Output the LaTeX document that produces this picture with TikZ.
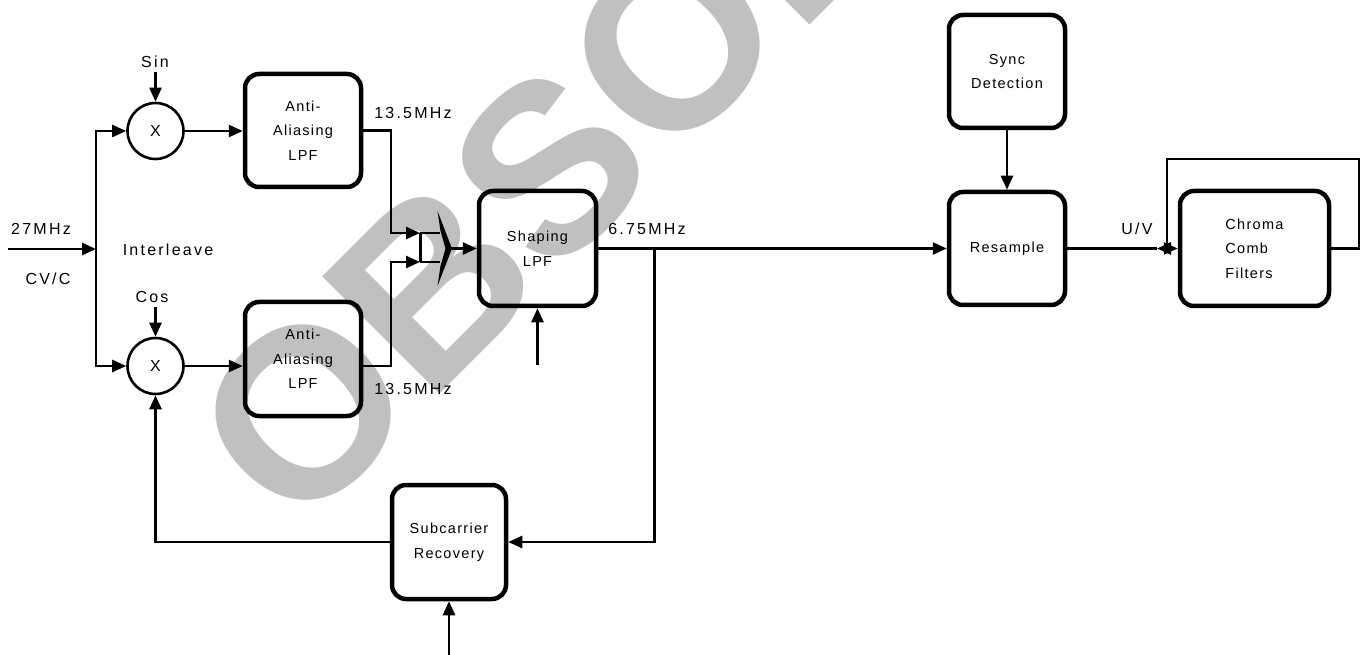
\documentclass[tikz,border=0pt]{standalone}
\usepackage{fontspec}
\setmainfont{Liberation Sans}
\newfontfamily\lblfont{Liberation Sans}[LetterSpace=14]
\newfontfamily\boxfont{Liberation Sans}[LetterSpace=9]
\newfontfamily\wmfont{Liberation Sans}
\usetikzlibrary{arrows.meta,calc}
\definecolor{wmgray}{HTML}{C0C0C0}
\tikzset{
  tip/.tip={Triangle[length=14pt,width=12pt]},
  conn/.style={line width=2.6pt},
  blk/.style={draw, line width=4.5pt, rounded corners=14pt, inner sep=0pt,
    align=center, font=\boxfont\fontsize{14.5}{24.5}\selectfont},
  mult/.style={draw, circle, line width=2.6pt, minimum size=56pt, inner sep=0pt,
    font=\lblfont\fontsize{16}{20}\selectfont},
  lbl/.style={anchor=base, inner sep=0pt, font=\lblfont\fontsize{16}{20}\selectfont},
}
\begin{document}
\begin{tikzpicture}[x=1pt,y=-1pt]
\useasboundingbox (0,0) rectangle (1361,655);
\clip (0,0) rectangle (1361,655);
% watermark
\node[anchor=base west, inner sep=0pt, rotate=45, text=wmgray,
  font=\wmfont\bfseries\fontsize{241}{241}\selectfont] (wm) at (296,538) {OBSOLETE};

% multipliers
\node[mult] (m1) at (155.5,131) {X};
\node[mult] (m2) at (155.5,366) {X};
% blocks
\node[blk, minimum width=116pt, minimum height=113pt] (aa1) at (303,130.5) {Anti-\\Aliasing\\LPF};
\node[blk, minimum width=116pt, minimum height=114pt] (aa2) at (303,359) {Anti-\\Aliasing\\LPF};
\node[blk, minimum width=117pt, minimum height=115pt] (shp) at (537.5,248.5) {Shaping\\LPF};
\node[blk, minimum width=114pt, minimum height=114pt] (sub) at (449,542) {Subcarrier\\Recovery};
\node[blk, minimum width=116pt, minimum height=113pt] (sync) at (1007,71.5) {Sync\\Detection};
\node[blk, minimum width=116pt, minimum height=113pt] (res) at (1007,248.5) {Resample};
\node[blk, minimum width=149pt, minimum height=115pt, align=left] (chr) at (1254.5,248.5) {Chroma\\Comb\\Filters};

% labels
\node[lbl] (l27) at (41,235) {27MHz};
\node[lbl] (lcv) at (48,284) {CV/C};
\node[lbl] (lint) at (168,256) {Interleave};
\node[lbl] (lsin) at (155,68) {Sin};
\node[lbl] (lcos) at (152,302) {Cos};
\node[lbl] (l13a) at (413,119) {13.5MHz};
\node[lbl] (l13b) at (413,394) {13.5MHz};
\node[lbl] (l675) at (647,235) {6.75MHz};
\node[lbl] (luv) at (1137,235) {U/V};

% coordinates
\coordinate (in) at (8,249);
\coordinate (j) at (96,249);
\coordinate (sinT) at (155.5,72);
\coordinate (cosT) at (155.5,307);
\coordinate (k1) at (391,233);
\coordinate (k2) at (391,262);
\coordinate (cj1) at (420,233);
\coordinate (cj2) at (420,262);
\coordinate (ce1) at (440,233);
\coordinate (ce2) at (440,262);
\coordinate (comb) at (451,248.5);
\coordinate (sb) at (537.5,365);
\coordinate (jj) at (654.5,248.5);
\coordinate (subin) at (449,660);
\coordinate (uvL) at (1157,248.5);
\coordinate (fbk) at (1167,248.5);
\coordinate (fr) at (1359,248.5);
\coordinate (fbtop) at (1167,159);

% connectors
\draw[conn,-tip] (in) -- (j);
\draw[conn,-tip] (j) |- (m1.west);
\draw[conn,-tip] (j) |- (m2.west);
\draw[conn,-tip] (sinT) -- (m1.north);
\draw[conn,-tip] (cosT) -- (m2.north);
\draw[conn,-tip] (m1.east) -- (m1.east -| aa1.west);
\draw[conn,-tip] (m2.east) -- (m2.east -| aa2.west);
\draw[conn,-tip] (aa1.east) -| (k1) -- (cj1);
\draw[conn,-tip] (m2.east -| aa2.east) -| (k2) -- (cj2);
\draw[line width=3pt] (cj1) -- (cj2);
\draw[conn] (cj1) -- (ce1);
\draw[conn] (cj2) -- (ce2);
\fill (437.5,211) -- (452,248.5) -- (437.5,286) -- (440.5,266) -- (445.5,248.5) -- (440.5,231) -- cycle;
\draw[conn,-tip] (comb) -- (shp.west);
\draw[conn,-tip] (sb) -- (shp.south);
\draw[conn,-tip] (shp.east) -- (res.west);
\draw[conn,-tip] (jj) |- (sub.east);
\draw[conn,-tip] (sub.west) -| (m2.south);
\draw[conn,-tip] (subin) -- (sub.south);
\draw[conn,-tip] (sync.south) -- (res.north);
\draw[conn] (res.east) -- (uvL);
\draw[conn,-tip] (fbk) -- (uvL);
\draw[conn,-tip] (chr.east) -- (fr) |- (fbtop) -- (fbk) -- (chr.west);
\end{tikzpicture}
\end{document}
